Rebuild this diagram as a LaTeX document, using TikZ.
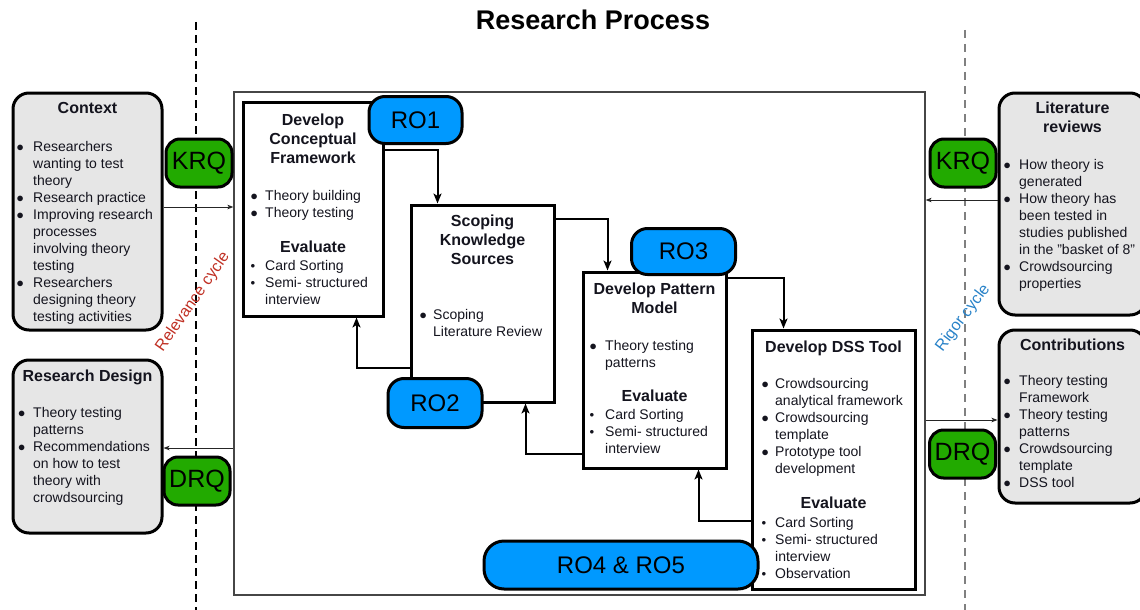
\documentclass[tikz,border=0pt]{standalone}
\usepackage{fontspec}
\setmainfont{Liberation Sans}
\usetikzlibrary{arrows.meta}

\definecolor{roblue}{RGB}{0,153,255}
\definecolor{qgreen}{RGB}{34,170,0}
\definecolor{panelgray}{RGB}{230,230,230}
\definecolor{relred}{RGB}{192,48,36}
\definecolor{rigblue}{RGB}{40,130,200}
\definecolor{ink}{RGB}{20,20,30}
\definecolor{frame}{RGB}{70,70,70}

% bullets: large for content items, small for evaluation items
\newcommand{\bbul}{$\bullet$}
\newcommand{\sbul}{\raisebox{1.3pt}{\fontsize{9}{9}\selectfont$\bullet$}}
% bullet list as a top-aligned two-column tabular
\newcommand{\blist}[2]{\begin{tabular}[t]{@{}p{#1}@{}l@{}}#2\end{tabular}}
\newcommand{\hlines}[1]{\begin{tabular}[t]{@{}c@{}}#1\end{tabular}}

\tikzset{
  stagebox/.style={draw=black, line width=3pt, fill=white, inner sep=0pt},
  panel/.style={draw=black, line width=3pt, fill=panelgray, rounded corners=16pt, inner sep=0pt},
  qtag/.style={draw=black, line width=3pt, fill=qgreen, rounded corners=14pt, inner sep=0pt,
    minimum width=66pt, minimum height=48pt, font=\fontsize{25}{25}\selectfont},
  rotag/.style={draw=black, line width=3pt, fill=roblue, rounded corners=16pt, inner sep=0pt,
    font=\fontsize{24}{24}\selectfont},
  lst/.style={anchor=base west, inner sep=0pt, font=\fontsize{14}{17}\selectfont, text=ink},
  hd/.style={anchor=base, inner sep=0pt, font=\bfseries\fontsize{16}{19}\selectfont, text=ink},
  flow/.style={line width=2pt, -{Stealth[length=10pt,width=8pt,inset=2.5pt]}},
  link/.style={line width=1pt, draw=black!85, -{Stealth[length=6pt,width=4.5pt,inset=1.5pt]}},
  cycle/.style={inner sep=0pt, font=\fontsize{16}{16}\selectfont}
}

\begin{document}
\begin{tikzpicture}[x=1pt,y=-1pt]
\useasboundingbox (0,0) rectangle (1140,610);

% title
\node[anchor=base, inner sep=0pt, font=\bfseries\fontsize{27}{32}\selectfont] (title) at (593,30) {Research Process};

% relevance and rigor cycle boundaries
\draw[line width=1.2pt, dash pattern=on 8pt off 5pt] (196,22) coordinate (relTop) -- (196,612) coordinate (relBot);
\draw[line width=1.5pt, draw=black!50, dash pattern=on 8pt off 6pt] (965,30) coordinate (rigTop) -- (965,612) coordinate (rigBot);

% research process frame
\node[draw=frame, line width=1.2pt, minimum width=691pt, minimum height=503pt, inner sep=0pt] (main) at (579.5,343.5) {};

% environment panels
\node[panel, minimum width=149pt, minimum height=237pt] (ctx) at (87.5,211.5) {};
\node[panel, minimum width=149pt, minimum height=173pt] (rd) at (87.5,446.5) {};
\node[panel, minimum width=147pt, minimum height=222pt] (lit) at (1072.5,204) {};
\node[panel, minimum width=147pt, minimum height=173pt] (con) at (1072.5,416.5) {};

\node[hd] (ctxT) at (87.5,113) {Context};
\node[lst] (ctxL) at (16.5,151) {\blist{16.5pt}{%
  \bbul & Researchers\\ & wanting to test\\ & theory\\
  \bbul & Research practice\\
  \bbul & Improving research\\ & processes\\ & involving theory\\ & testing\\
  \bbul & Researchers\\ & designing theory\\ & testing activities}};

\node[hd] (rdT) at (87.5,381) {Research Design};
\node[lst] (rdL) at (18,417) {\blist{15pt}{%
  \bbul & Theory testing\\ & patterns\\
  \bbul & Recommendations\\ & on how to test\\ & theory with\\ & crowdsourcing}};

\node[hd] (litT) at (1072.5,113) {\hlines{Literature\\reviews}};
\node[lst] (litL) at (1003.5,169) {\blist{15.5pt}{%
  \bbul & How theory is\\ & generated\\
  \bbul & How theory has\\ & been tested in\\ & studies published\\ & in the "basket of 8"\\
  \bbul & Crowdsourcing\\ & properties}};

\node[hd] (conT) at (1072.5,350) {Contributions};
\node[lst] (conL) at (1003.5,385) {\blist{15.5pt}{%
  \bbul & Theory testing\\ & Framework\\
  \bbul & Theory testing\\ & patterns\\
  \bbul & Crowdsourcing\\ & template\\
  \bbul & DSS tool}};

% knowledge and design question tags
\node[qtag] (krqL) at (199,163) {KRQ};
\node[qtag] (drqL) at (197,481) {DRQ};
\node[qtag] (krqR) at (963,163) {KRQ};
\node[qtag] (drqR) at (962.5,454) {DRQ};

% cycle labels
\node[cycle, rotate=55, text=relred] (relLbl) at (193,302) {Relevance cycle};
\node[cycle, rotate=53, text=rigblue] (rigLbl) at (963,318) {Rigor cycle};

% stages
\node[stagebox, minimum width=140pt, minimum height=214pt] (b1) at (313,209) {};
\node[stagebox, minimum width=143pt, minimum height=197pt] (b2) at (482.5,303.5) {};
\node[stagebox, minimum width=143pt, minimum height=196pt] (b3) at (654.5,370) {};
\node[stagebox, minimum width=163pt, minimum height=259pt] (b4) at (833.5,459.5) {};

% stage 1
\node[hd] (b1T) at (313,125) {\hlines{Develop\\Conceptual\\Framework}};
\node[lst] (b1L) at (250.5,200) {\blist{14.5pt}{%
  \bbul & Theory building\\ \bbul & Theory testing}};
\node[hd] (b1E) at (313,252) {Evaluate};
\node[lst] (b1V) at (250.5,270) {\blist{14.5pt}{%
  \sbul & Card Sorting\\ \sbul & Semi- structured\\ & interview}};

% stage 2
\node[hd] (b2T) at (482.5,226) {\hlines{Scoping\\Knowledge\\Sources}};
\node[lst] (b2L) at (419.5,319) {\blist{13.5pt}{%
  \bbul & Scoping\\ & Literature Review}};

% stage 3
\node[hd] (b3T) at (654.5,294) {\hlines{Develop Pattern\\Model}};
\node[lst] (b3L) at (589.5,350) {\blist{15.5pt}{%
  \bbul & Theory testing\\ & patterns}};
\node[hd] (b3E) at (654.5,401) {Evaluate};
\node[lst] (b3V) at (589.5,419) {\blist{15.5pt}{%
  \sbul & Card Sorting\\ \sbul & Semi- structured\\ & interview}};

% stage 4
\node[hd] (b4T) at (833.5,352) {Develop DSS Tool};
\node[lst] (b4L) at (761.5,388) {\blist{13.5pt}{%
  \bbul & Crowdsourcing\\ & analytical framework\\
  \bbul & Crowdsourcing\\ & template\\
  \bbul & Prototype tool\\ & development}};
\node[hd] (b4E) at (833.5,508) {Evaluate};
\node[lst] (b4V) at (761.5,527) {\blist{13.5pt}{%
  \sbul & Card Sorting\\ \sbul & Semi- structured\\ & interview\\ \sbul & Observation}};

% forward flow between stages
\draw[flow] ([yshift=-49pt]b1.north east) -| ([xshift=28pt]b2.north west);
\draw[flow] ([yshift=-15pt]b2.north east) -| ([xshift=26pt]b3.north west);
\draw[flow] ([yshift=-7pt]b3.north east) -| ([xshift=33pt]b4.north west);
% feedback between stages
\draw[flow] ([yshift=-164pt]b2.north west) -| ([xshift=-28pt]b1.south east);
\draw[flow] ([yshift=-183pt]b3.north west) -| ([xshift=-30pt]b2.south east);
\draw[flow] ([yshift=-192pt]b4.north west) -| ([xshift=-29pt]b3.south east);

% links between environment, knowledge base and the process
\coordinate (ctxOut) at ([yshift=4.5pt]ctx.east);
\draw[link] (ctxOut) -- (ctxOut -| main.west);
\coordinate (rdIn) at ([yshift=-1.5pt]rd.east);
\draw[link] (rdIn -| main.west) -- (rdIn);
\coordinate (litOut) at ([yshift=4pt]lit.west);
\draw[link] (litOut) -- (litOut -| main.east);
\coordinate (conIn) at ([yshift=-3.5pt]con.west);
\draw[link] (conIn -| main.east) -- (conIn);

% research objectives
\node[rotag, minimum width=93pt, minimum height=47pt] (ro1) at (415.5,120) {RO1};
\node[rotag, minimum width=94pt, minimum height=49pt] (ro2) at (435,403) {RO2};
\node[rotag, minimum width=104pt, minimum height=46pt] (ro3) at (683.5,251.5) {RO3};
\node[rotag, minimum width=274pt, minimum height=48pt, rounded corners=20pt] (ro45) at (621,565) {RO4 \& RO5};
\end{tikzpicture}
\end{document}
